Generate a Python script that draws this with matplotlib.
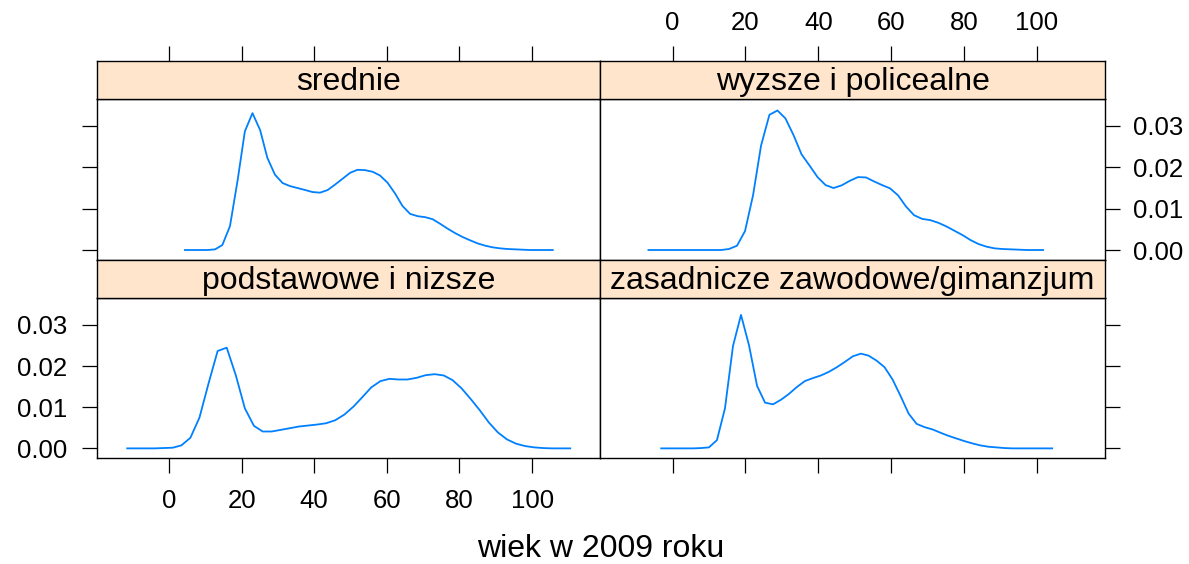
import matplotlib
matplotlib.use("Agg")
import matplotlib.pyplot as plt

plt.rcParams['font.family'] = ['Liberation Sans', 'DejaVu Sans']

# panel titles
groups = ["srednie", "wyzsze i policealne",
          "podstawowe i nizsze", "zasadnicze zawodowe/gimanzjum"]

# density curves (age grid, density)
x_srednie = [4.4, 6.5, 8.5, 10.6, 12.7, 14.7, 16.8, 18.9, 20.9, 23.0,
             25.1, 27.1, 29.2, 31.3, 33.3, 35.4, 37.5, 39.5, 41.6, 43.7,
             45.7, 47.8, 49.9, 51.9, 54.0, 56.1, 58.1, 60.2, 62.3, 64.3,
             66.4, 68.5, 70.6, 72.6, 74.7, 76.8, 78.8, 80.9, 83.0, 85.0,
             87.1, 89.2, 91.2, 93.3, 95.4, 97.4, 99.5, 101.6, 103.6, 105.7]
y_srednie = [0, 0, 0, 0, 0.00016, 0.0012, 0.00576, 0.0168, 0.02864, 0.03304,
             0.02896, 0.02224, 0.01816, 0.01616, 0.01544, 0.01496, 0.01448, 0.0140, 0.01384, 0.01448,
             0.01576, 0.0172, 0.01864, 0.01936, 0.01928, 0.01888, 0.0180, 0.01624, 0.0136, 0.01064,
             0.00872, 0.00816, 0.00792, 0.00744, 0.00632, 0.00512, 0.00408, 0.00312, 0.00232, 0.0016,
             0.00104, 0.00064, 0.0004, 0.00024, 0.00016, 0.00008, 0, 0, 0, 0]

x_wyzsze = [-6.6, -4.4, -2.2, 0.0, 2.2, 4.5, 6.7, 8.9, 11.1, 13.3,
            15.5, 17.7, 19.9, 22.1, 24.3, 26.6, 28.8, 31.0, 33.2, 35.4,
            37.6, 39.8, 42.0, 44.2, 46.4, 48.7, 50.9, 53.1, 55.3, 57.5,
            59.7, 61.9, 64.1, 66.3, 68.5, 70.8, 73.0, 75.2, 77.4, 79.6,
            81.8, 84.0, 86.2, 88.4, 90.6, 92.9, 95.1, 97.3, 99.5, 101.7]
y_wyzsze = [0, 0, 0, 0, 0, 0, 0, 0, 0, 0,
            0.00024, 0.00104, 0.00456, 0.0132, 0.0252, 0.03264, 0.03368, 0.03176, 0.02776, 0.02312,
            0.0204, 0.0176, 0.01568, 0.01496, 0.0156, 0.01672, 0.0176, 0.01752, 0.01656, 0.01568,
            0.01488, 0.0132, 0.01048, 0.0084, 0.00752, 0.0072, 0.00656, 0.00568, 0.00464, 0.0036,
            0.0024, 0.00144, 0.0008, 0.0004, 0.00024, 0.00016, 0.00008, 0, 0, 0]

x_podst = [-11.5, -9.0, -6.5, -4.0, -1.5, 1.0, 3.4, 5.9, 8.4, 10.9,
           13.4, 15.9, 18.4, 20.9, 23.4, 25.8, 28.3, 30.8, 33.3, 35.8,
           38.3, 40.8, 43.3, 45.8, 48.3, 50.8, 53.2, 55.7, 58.2, 60.7,
           63.2, 65.7, 68.2, 70.7, 73.2, 75.7, 78.1, 80.6, 83.1, 85.6,
           88.1, 90.6, 93.1, 95.6, 98.1, 100.6, 103.0, 105.5, 108.0, 110.5]
y_podst = [0, 0, 0, 0, 0.00008, 0.00016, 0.00072, 0.00257, 0.00748, 0.01577,
           0.02365, 0.02446, 0.01778, 0.00973, 0.00547, 0.0041, 0.0041, 0.0045, 0.0049, 0.00531,
           0.00555, 0.00579, 0.00611, 0.00684, 0.00821, 0.01014, 0.01239, 0.0148, 0.01633, 0.01689,
           0.01673, 0.01673, 0.01714, 0.01778, 0.01802, 0.0177, 0.01657, 0.01456, 0.01199, 0.00925,
           0.00628, 0.00386, 0.00217, 0.00113, 0.00056, 0.00024, 0.00008, 0, 0, 0]

x_zasad = [-3.1, -0.9, 1.3, 3.5, 5.7, 7.9, 10.0, 12.2, 14.4, 16.6,
           18.8, 21.0, 23.2, 25.4, 27.6, 29.8, 31.9, 34.1, 36.3, 38.5,
           40.7, 42.9, 45.1, 47.3, 49.5, 51.7, 53.8, 56.0, 58.2, 60.4,
           62.6, 64.8, 67.0, 69.2, 71.4, 73.6, 75.7, 77.9, 80.1, 82.3,
           84.5, 86.7, 88.9, 91.1, 93.3, 95.5, 97.6, 99.8, 102.0, 104.2]
y_zasad = [0, 0, 0, 0, 0, 0.00008, 0.00024, 0.00201, 0.00973, 0.02486,
           0.03242, 0.02502, 0.0152, 0.0111, 0.0107, 0.01183, 0.01319, 0.01488, 0.01633, 0.01706,
           0.0177, 0.01858, 0.01971, 0.021, 0.02237, 0.02301, 0.02253, 0.02132, 0.01971, 0.01673,
           0.01271, 0.00845, 0.00595, 0.00515, 0.00459, 0.00378, 0.00306, 0.00241, 0.00177, 0.00121,
           0.00072, 0.0004, 0.00024, 0.00008, 0, 0, 0, 0, 0, 0]

xticks = [0, 20, 40, 60, 80, 100]
yticks = [0.00, 0.01, 0.02, 0.03]
ytick_labels = ["0.00", "0.01", "0.02", "0.03"]

W, H = 1189, 564
fig = plt.figure(figsize=(W / 100, H / 100), dpi=100)


def px_axes(x0, y0, x1, y1):
    # pixel box (top-left origin) -> figure axes
    return fig.add_axes([x0 / W, 1 - y1 / H, (x1 - x0) / W, (y1 - y0) / H])


XLIM = (-19.9, 118.7)
YLIM = (-0.00241, 0.03645)
line_col = "#0080ff"
strip_col = "#ffe5cc"

cols = [(96.7, 600.0), (600.0, 1105.0)]
rows = [(61.0, 99.0, 260.0), (260.0, 298.3, 458.3)]   # strip top, panel top, panel bottom

panels = [
    (groups[0], x_srednie, y_srednie, 0, 0),
    (groups[1], x_wyzsze, y_wyzsze, 1, 0),
    (groups[2], x_podst, y_podst, 0, 1),
    (groups[3], x_zasad, y_zasad, 1, 1),
]

tick_kw = dict(direction="out", length=11, width=0.9, labelsize=18.5)

for name, xs, ys, c, r in panels:
    x0, x1 = cols[c]
    s_top, p_top, p_bot = rows[r]

    ax = px_axes(x0, p_top, x1, p_bot)
    ax.plot(xs, ys, color=line_col, lw=1.3)
    ax.set_xlim(XLIM)
    ax.set_ylim(YLIM)
    for sp in ax.spines.values():
        sp.set_linewidth(1.0)

    ax.set_yticks(yticks)
    ax.set_yticklabels(ytick_labels)
    if c == 0:
        ax.tick_params(axis="y", left=True, right=False, labelleft=(r == 1), labelright=False, pad=10, **tick_kw)
    else:
        ax.tick_params(axis="y", left=False, right=True, labelleft=False, labelright=(r == 0), pad=9, **tick_kw)

    ax.set_xticks(xticks)
    if r == 1:
        ax.tick_params(axis="x", bottom=True, top=False, labelbottom=(c == 0), labeltop=False, pad=11, **tick_kw)
    else:
        ax.tick_params(axis="x", bottom=False, top=False, labelbottom=False, labeltop=False)

    # strip
    st = px_axes(x0, s_top, x1, p_top)
    st.set_facecolor(strip_col)
    st.set_xlim(XLIM)
    st.set_yticks([])
    for sp in st.spines.values():
        sp.set_linewidth(1.0)
    st.set_xticks(xticks)
    if r == 0:
        st.tick_params(axis="x", bottom=False, top=True, labelbottom=False, labeltop=(c == 1), pad=8, **tick_kw)
    else:
        st.tick_params(axis="x", bottom=False, top=False, labelbottom=False, labeltop=False)
    st.text(0.5, 0.45, name, transform=st.transAxes, ha="center", va="center", fontsize=23)

fig.text(600.5 / W, 1 - 549 / H, "wiek w 2009 roku", ha="center", va="center", fontsize=23)

fig.savefig("out.png", dpi=100)
